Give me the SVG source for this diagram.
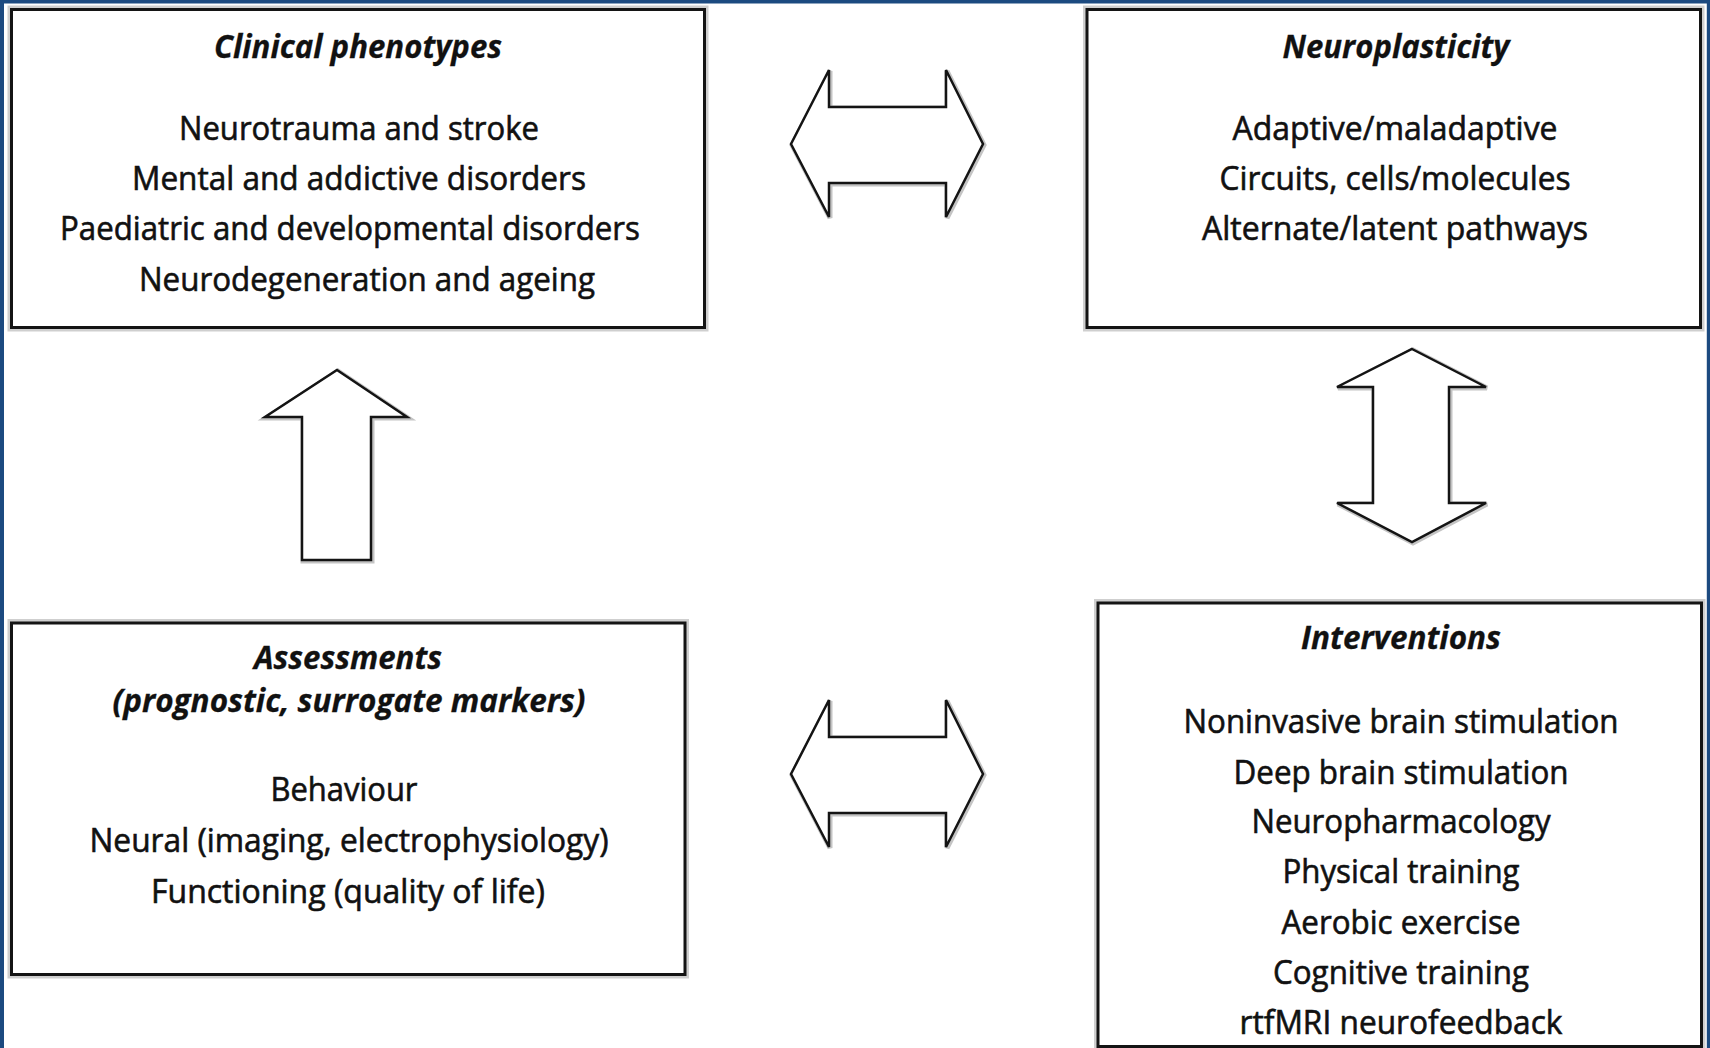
<svg xmlns="http://www.w3.org/2000/svg" width="1710" height="1048" viewBox="0 0 1710 1048">
<style>
.halo{fill:none;stroke:#cfcfcf;stroke-width:8}
.box{fill:#fff;stroke:#141414;stroke-width:3}
.t{font-family:"Open Sans","Liberation Sans",sans-serif;font-size:32px;fill:#111;stroke:#111;stroke-width:0.6;text-anchor:middle}
.h{font-weight:bold;font-style:italic;stroke-width:0.3}
.arr{fill:#fff;stroke:#141414;stroke-width:2.5;stroke-linejoin:miter}
.arrh{fill:none;stroke:#c4c4c4;stroke-width:5}
</style>
<rect x="0" y="0" width="1710" height="1048" fill="#fff"/>
<path d="M2,1048 V1.5 H1708.8 V1048" fill="none" stroke="#1c4a80" stroke-width="4"/>
<rect x="0" y="0" width="4" height="1048" fill="#1c4a80"/>

<g id="connectors">
  <g id="arrow-top">
    <polygon class="arrh" transform="translate(1,1)" points="791,144 829,70 829,107 946,107 946,70 983,144 946,217 946,183 829,183 829,217"/>
    <polygon class="arr" points="791,144 829,70 829,107 946,107 946,70 983,144 946,217 946,183 829,183 829,217"/>
  </g>
  <g id="arrow-bottom">
    <polygon class="arrh" transform="translate(1,1)" points="791,774 829,700 829,737 946,737 946,700 983,774 946,847 946,813 829,813 829,847"/>
    <polygon class="arr" points="791,774 829,700 829,737 946,737 946,700 983,774 946,847 946,813 829,813 829,847"/>
  </g>
  <g id="arrow-up">
    <polygon class="arrh" transform="translate(1,1)" points="337,370 407,417 371,417 371,560 302,560 302,417 265,417"/>
    <polygon class="arr" points="337,370 407,417 371,417 371,560 302,560 302,417 265,417"/>
  </g>
  <g id="arrow-vertical">
    <polygon class="arrh" transform="translate(1,1)" points="1412,349 1486,387 1449,387 1449,503 1486,503 1412,542 1337,503 1373,503 1373,387 1337,387"/>
    <polygon class="arr" points="1412,349 1486,387 1449,387 1449,503 1486,503 1412,542 1337,503 1373,503 1373,387 1337,387"/>
  </g>
</g>

<g id="clinical-phenotypes">
  <rect class="halo" x="11.5" y="9.5" width="693" height="318"/>
  <rect class="box" x="11.5" y="9.5" width="693" height="318"/>
  <text class="t h" x="358" y="58" textLength="288" lengthAdjust="spacingAndGlyphs">Clinical phenotypes</text>
  <text class="t" x="359" y="140" textLength="360" lengthAdjust="spacingAndGlyphs">Neurotrauma and stroke</text>
  <text class="t" x="359" y="190" textLength="454" lengthAdjust="spacingAndGlyphs">Mental and addictive disorders</text>
  <text class="t" x="350" y="240" textLength="580" lengthAdjust="spacingAndGlyphs">Paediatric and developmental disorders</text>
  <text class="t" x="367" y="291" textLength="456" lengthAdjust="spacingAndGlyphs">Neurodegeneration and ageing</text>
</g>

<g id="neuroplasticity">
  <rect class="halo" x="1087" y="9.5" width="613.5" height="318"/>
  <rect class="box" x="1087" y="9.5" width="613.5" height="318"/>
  <text class="t h" x="1396" y="58" textLength="227" lengthAdjust="spacingAndGlyphs">Neuroplasticity</text>
  <text class="t" x="1395" y="140" textLength="325" lengthAdjust="spacingAndGlyphs">Adaptive/maladaptive</text>
  <text class="t" x="1395" y="190" textLength="351" lengthAdjust="spacingAndGlyphs">Circuits, cells/molecules</text>
  <text class="t" x="1395" y="240" textLength="386" lengthAdjust="spacingAndGlyphs">Alternate/latent pathways</text>
</g>

<g id="assessments">
  <rect class="halo" x="11.5" y="623" width="673.5" height="351.5"/>
  <rect class="box" x="11.5" y="623" width="673.5" height="351.5"/>
  <text class="t h" x="348" y="669" textLength="188" lengthAdjust="spacingAndGlyphs">Assessments</text>
  <text class="t h" x="349" y="712" textLength="473" lengthAdjust="spacingAndGlyphs">(prognostic, surrogate markers)</text>
  <text class="t" x="344" y="801" textLength="147" lengthAdjust="spacingAndGlyphs">Behaviour</text>
  <text class="t" x="349" y="852" textLength="519" lengthAdjust="spacingAndGlyphs">Neural (imaging, electrophysiology)</text>
  <text class="t" x="348" y="903" textLength="394" lengthAdjust="spacingAndGlyphs">Functioning (quality of life)</text>
</g>

<g id="interventions">
  <rect class="halo" x="1098" y="603" width="603.5" height="443.5"/>
  <rect class="box" x="1098" y="603" width="603.5" height="443.5"/>
  <text class="t h" x="1401" y="649" textLength="200" lengthAdjust="spacingAndGlyphs">Interventions</text>
  <text class="t" x="1401" y="733" textLength="435" lengthAdjust="spacingAndGlyphs">Noninvasive brain stimulation</text>
  <text class="t" x="1401" y="784" textLength="335" lengthAdjust="spacingAndGlyphs">Deep brain stimulation</text>
  <text class="t" x="1401" y="833" textLength="299" lengthAdjust="spacingAndGlyphs">Neuropharmacology</text>
  <text class="t" x="1401" y="883" textLength="237" lengthAdjust="spacingAndGlyphs">Physical training</text>
  <text class="t" x="1401" y="934" textLength="239" lengthAdjust="spacingAndGlyphs">Aerobic exercise</text>
  <text class="t" x="1401" y="984" textLength="256" lengthAdjust="spacingAndGlyphs">Cognitive training</text>
  <text class="t" x="1401" y="1034" textLength="323" lengthAdjust="spacingAndGlyphs">rtfMRI neurofeedback</text>
</g>
</svg>
